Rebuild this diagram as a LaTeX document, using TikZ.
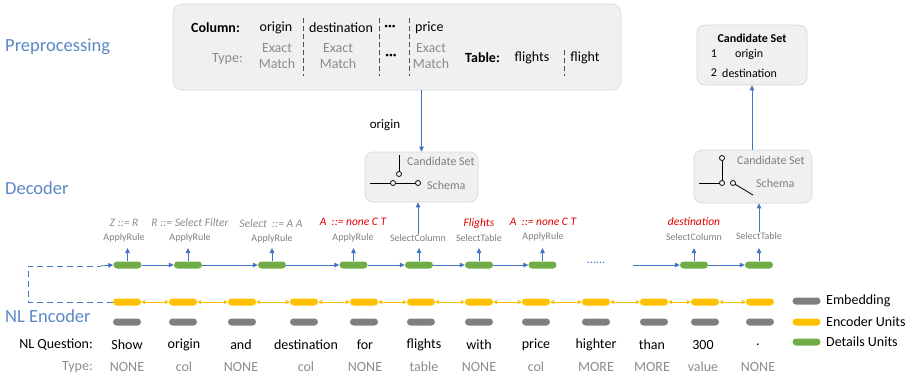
\documentclass[tikz,border=0pt]{standalone}
\usepackage{fontspec}
\setmainfont{Carlito}
\usetikzlibrary{arrows.meta}
\definecolor{lineblue}{RGB}{68,114,196}
\definecolor{titleblue}{RGB}{90,136,198}
\definecolor{ugreen}{RGB}{112,173,71}
\definecolor{uyellow}{RGB}{255,192,0}
\definecolor{ugray}{RGB}{127,127,127}
\definecolor{tgray}{RGB}{140,140,140}
\definecolor{ured}{RGB}{228,0,0}
\definecolor{boxfill}{RGB}{240,240,240}
\definecolor{boxline}{RGB}{215,215,215}
\begin{document}
\begin{tikzpicture}[x=1pt,y=-1pt,
  unit/.style={rounded corners=3.5pt,minimum width=28pt,minimum height=7pt,inner sep=0pt},
  gunit/.style={unit,fill=ugreen},
  yunit/.style={unit,fill=uyellow},
  eunit/.style={unit,fill=ugray},
  panel/.style={draw=boxline,fill=boxfill,rounded corners=9pt,line width=0.6pt,inner sep=0pt},
  stage/.style={text=titleblue,font=\fontsize{18.5}{20}\selectfont,anchor=west,inner sep=0pt},
  word/.style={font=\fontsize{14}{16}\selectfont,inner sep=0pt},
  tword/.style={word,text=tgray},
  small/.style={font=\fontsize{10}{12}\selectfont,text=ugray,inner sep=0pt},
  rulelab/.style={font=\fontsize{11.5}{13}\itshape,text=tgray,inner sep=0pt},
  redlab/.style={font=\fontsize{11.5}{13}\itshape,text=ured,inner sep=0pt},
  barrow/.style={draw=lineblue,line width=0.8pt,-{Triangle[length=5pt,width=4.5pt]}},
  yarrow/.style={draw=uyellow,line width=0.8pt,{Triangle[length=4pt,width=4pt]}-{Triangle[length=4pt,width=4pt]}},
  sep/.style={draw=black!70,line width=0.8pt,dash pattern=on 5pt off 3pt},
  sw/.style={draw=black,line width=0.8pt},
  swc/.style={draw=black,line width=0.8pt,fill=white},
  cbtext/.style={font=\fontsize{12}{14}\selectfont,text=ugray,anchor=west,inner sep=0pt},
  listtext/.style={font=\fontsize{12}{14}\selectfont,inner sep=0pt}
]
\useasboundingbox (0,0) rectangle (911,376);

% stage titles
\node[stage] (tpre) at (5,47) {Preprocessing};
\node[stage] (tdec) at (5,188) {Decoder};
\node[stage] (tenc) at (5,316) {NL Encoder};

% top preprocessing panel
\node[panel,minimum width=448pt,minimum height=86pt] (top) at (397,47) {};
\node[word,font=\fontsize{14}{16}\bfseries,anchor=west] (colh) at (191,28) {Column:};
\node[word] (c1) at (276,28) {origin};
\node[word] (c2) at (341,28) {destination};
\node[word,font=\fontsize{14}{16}\bfseries] (c3) at (390,28) {···};
\node[word,anchor=west] (c4) at (415,28) {price};
\node[tword,anchor=east] (typh) at (243,59) {Type:};
\node[tword,align=center,font=\fontsize{14}{16.5}\selectfont] (x1) at (277,56) {Exact\\Match};
\node[tword,align=center,font=\fontsize{14}{16.5}\selectfont] (x2) at (338,56) {Exact\\Match};
\node[word,font=\fontsize{14}{16}\bfseries] (x3) at (391,57) {···};
\node[tword,align=center,font=\fontsize{14}{16.5}\selectfont] (x4) at (431,56) {Exact\\Match};
\node[word,font=\fontsize{14}{16}\bfseries,anchor=west] (tabh) at (465,58) {Table:};
\node[word] (tb1) at (532,58) {flights};
\node[word] (tb2) at (585,58) {flight};
\draw[sep] (303,18) -- (303,76);
\draw[sep] (379,18) -- (379,76);
\draw[sep] (409,18) -- (409,76);
\draw[sep] (564,50) -- (564,76);

% candidate box 1 (schema selected)
\node[panel,minimum width=113pt,minimum height=50pt,rounded corners=8pt] (cb1) at (421.5,177) {};
\node[cbtext] (cb1c) at (407,161) {Candidate Set};
\node[cbtext] (cb1s) at (427,185) {Schema};
\draw[sw] (399,155) -- (399,171.5);
\draw[swc] (399,174) circle (2.5pt);
\draw[sw] (370,183) -- (390.5,183);
\draw[sw] (395.5,183) -- (415.5,183);
\draw[swc] (393,183) circle (2.5pt);
\draw[swc] (418,183) circle (2.5pt);

% candidate box 2 (candidate set selected)
\node[panel,minimum width=118pt,minimum height=53pt,rounded corners=8pt] (cb2) at (753,176.5) {};
\node[cbtext] (cb2c) at (737,160) {Candidate Set};
\node[cbtext] (cb2s) at (756,183) {Schema};
\draw[sw] (722,160.5) -- (722,180.5);
\draw[swc] (722,158) circle (2.5pt);
\draw[sw] (699,183) -- (719.5,183);
\draw[swc] (722,183) circle (2.5pt);
\draw[sw] (735.2,184.3) -- (753,195);
\draw[swc] (733,183) circle (2.5pt);

% candidate set result box
\node[panel,minimum width=110pt,minimum height=60pt,rounded corners=8pt] (cb3) at (752,55) {};
\node[listtext,font=\fontsize{12}{14}\bfseries] (cb3t) at (752,38) {Candidate Set};
\node[listtext] (n1) at (714,54) {1};
\node[listtext,anchor=west] (o1) at (735,54) {origin};
\node[listtext] (n2) at (714,73) {2};
\node[listtext,anchor=west] (o2) at (722,73) {destination};

% arrows between panels
\draw[barrow] (top.south -| cb1.north) -- (cb1.north);
\node[word,font=\fontsize{13}{15}\selectfont] (olab) at (385,125) {origin};
\draw[barrow] (cb2.north -| 752,0) -- (cb3.south -| 752,0);

% decoder units
\foreach \i/\x in {1/127.5,2/188,3/272,4/353.5,5/419,6/479,7/542.5,8/694,9/759}{
  \node[gunit] (g\i) at (\x,265) {};
  \coordinate (gt\i) at (\x,248);
  \draw[barrow] (g\i.north) -- (gt\i);
}
\foreach \i/\j in {1/2,2/3,3/4,4/5,5/6,6/7,8/9}{
  \draw[barrow] (g\i.east) -- (g\j.west);
}
\node[text=lineblue,inner sep=0pt,font=\fontsize{12}{14}\selectfont] (dots) at (596,263) {......};
\coordinate (gin8) at (633,265);
\draw[barrow] (gin8) -- (g8.west);

% decoder labels
\node[small] (r1) at (124,238) {ApplyRule};
\node[small] (r2) at (190,238) {ApplyRule};
\node[small] (r3) at (272,239) {ApplyRule};
\node[small] (r4) at (353,238) {ApplyRule};
\node[small] (r5) at (418,238) {SelectColumn};
\node[small] (r6) at (479,238) {SelectTable};
\node[small] (r7) at (543,237) {ApplyRule};
\node[small] (r8) at (694,237) {SelectColumn};
\node[small] (r9) at (759,236) {SelectTable};
\node[rulelab] (l1) at (124,223) {Z ::= R};
\node[rulelab] (l2) at (190,223) {R ::= Select Filter};
\node[rulelab] (l3) at (271,224) {Select\ \ ::= A A};
\node[redlab] (l4) at (353,222) {A\ \ ::= none C T};
\node[redlab] (l6) at (479,223) {Flights};
\node[redlab] (l7) at (543,222) {A\ \ ::= none C T};
\node[redlab] (l8) at (694,222) {destination};
\draw[barrow] (r5.north) -- (r5.north |- cb1.south);
\draw[barrow] (r9.north) -- (r9.north |- cb2.south);

% encoder units, embeddings, words
\foreach \i/\x in {1/127,2/183,3/242,4/304,5/364,6/421,7/479,8/536,9/596,10/654,11/705,12/760}{
  \node[yunit] (y\i) at (\x,302) {};
  \node[eunit] (e\i) at (\x,322) {};
}
\foreach \i/\j in {1/2,2/3,3/4,4/5,5/6,6/7,7/8,8/9,9/10,10/11,11/12}{
  \draw[yarrow] (y\i.east) -- (y\j.west);
}
\foreach \i/\x/\w/\t in {1/127/Show/NONE,2/184/origin/col,3/241/and/NONE,4/306/destination/col,5/365/for/NONE,6/424/flights/table,7/479/with/NONE,8/536/price/col,9/596/highter/MORE,10/652/than/MORE,11/703/300/value,12/758/./NONE}{
  \node[word] (w\i) at (\x,345) {\w};
  \node[tword] (t\i) at (\x,367) {\t};
}
\node[word,anchor=east] (nlq) at (93,345) {NL Question:};
\node[tword,anchor=east] (nlt) at (93,367) {Type:};

% dashed connection encoder -> decoder
\coordinate (dl) at (28,302);
\coordinate (dt) at (28,266);
\coordinate (dend) at (100,266);
\draw[draw=lineblue,line width=0.8pt,dash pattern=on 6pt off 4pt] (y1.west) -- (dl) -- (dt) -- (dend);
\draw[barrow] (dend) -- (g1.west);

% legend
\node[eunit] (le) at (806.5,301) {};
\node[yunit] (ly) at (806.5,322) {};
\node[gunit] (lg) at (806.5,342) {};
\node[word,anchor=west] (let) at (826,301) {Embedding};
\node[word,anchor=west] (lyt) at (826,322) {Encoder Units};
\node[word,anchor=west] (lgt) at (826,342) {Details Units};
\end{tikzpicture}
\end{document}
